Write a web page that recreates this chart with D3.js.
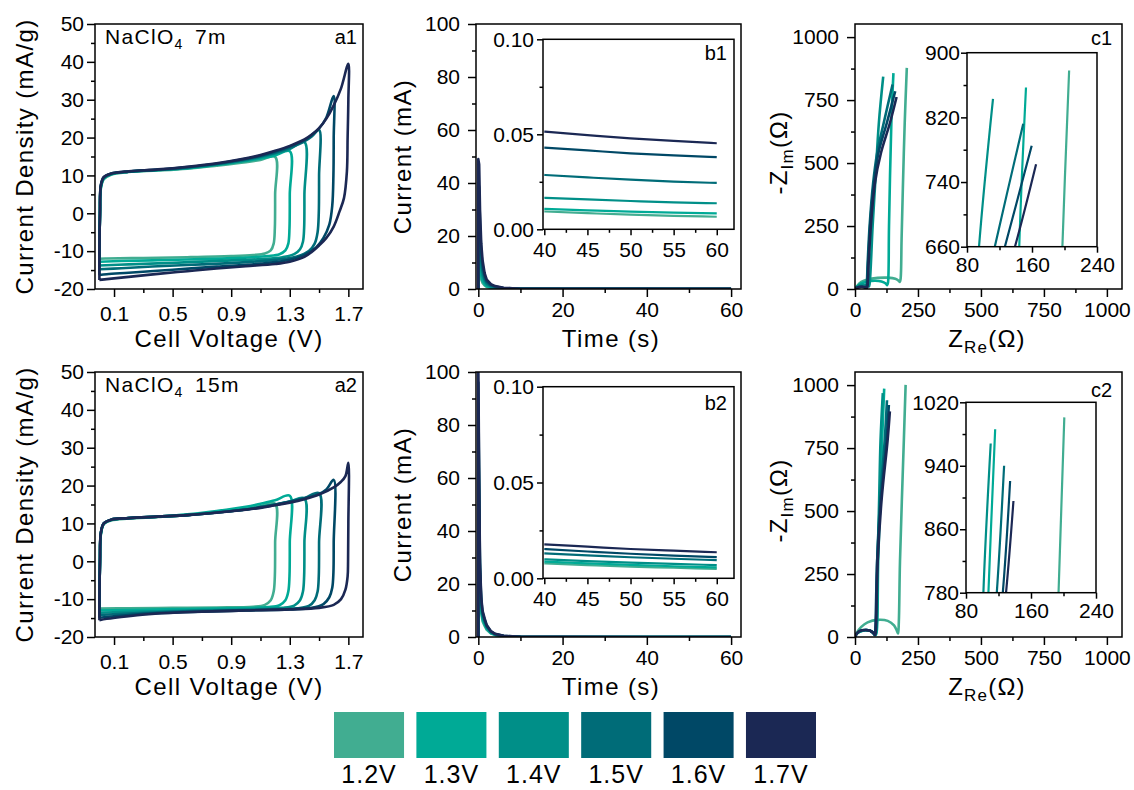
<!DOCTYPE html>
<html>
<head>
<meta charset="utf-8">
<style>
  body { margin: 0; background: #fff; }
  svg { display: block; font-family: "Liberation Sans", Arial, sans-serif; }
</style>
<script src="https://cdn.jsdelivr.net/npm/d3@7"></script>
</head>
<body>
<svg width="1134" height="790"></svg>
<script>
const volts = ["1.2V", "1.3V", "1.4V", "1.5V", "1.6V", "1.7V"];
const colors = ["#41ad91", "#00aa96", "#008f88", "#006c78", "#004866", "#1b2854"];

// CV loops [V, mA/g], NaClO4 7m
const cv7m = [
  [[0,-12],[0,-10],[0.004,0],[0.01,6.5],[0.03,9],[0.08,10.2],[0.2,10.9],[0.4,11.3],[0.6,11.8],[0.8,12.6],[1.0,13.5],[1.1,14.1],[1.2,14.9],
   [1.2,5],[1.198,-4],[1.19,-8],[1.17,-9.8],[1.13,-10.6],[1.05,-11],[0.9,-11.3],[0.6,-11.6],[0.3,-11.8],[0.05,-11.95],[0,-12]],
  [[0,-12.8],[0,-10],[0.004,0],[0.01,6.8],[0.03,9.2],[0.08,10.3],[0.2,11],[0.4,11.4],[0.6,11.9],[0.8,12.8],[1.0,13.8],[1.1,14.5],[1.2,15.3],[1.3,16.4],
   [1.3,5],[1.298,-4],[1.29,-8],[1.27,-9.8],[1.23,-10.8],[1.15,-11.3],[1.0,-11.7],[0.7,-12.1],[0.4,-12.4],[0.15,-12.6],[0,-12.8]],
  [[0,-13.8],[0,-10],[0.004,0],[0.01,7],[0.03,9.3],[0.08,10.4],[0.2,11],[0.4,11.5],[0.6,12],[0.8,12.9],[1.0,14],[1.1,14.8],[1.2,15.8],[1.3,17],[1.4,18.8],
   [1.4,5],[1.398,-4],[1.39,-7.5],[1.37,-9.5],[1.33,-10.8],[1.25,-11.6],[1.1,-12.1],[0.8,-12.6],[0.5,-13.1],[0.2,-13.5],[0,-13.8]],
  [[0,-14.8],[0,-10],[0.004,0],[0.01,7.2],[0.03,9.4],[0.08,10.4],[0.2,11],[0.4,11.5],[0.6,12.1],[0.8,13],[1.0,14.2],[1.1,15],[1.2,16],[1.3,17.3],[1.4,19],[1.45,20.3],[1.5,22],
   [1.5,10],[1.498,0],[1.49,-5],[1.47,-8],[1.43,-10],[1.35,-11.4],[1.2,-12.3],[1.0,-12.9],[0.7,-13.5],[0.4,-14],[0.15,-14.5],[0,-14.8]],
  [[0,-16.3],[0,-10],[0.004,0],[0.01,7.4],[0.03,9.5],[0.08,10.5],[0.2,11],[0.4,11.5],[0.6,12.2],[0.8,13.1],[1.0,14.4],[1.1,15.2],[1.2,16.3],[1.3,17.6],[1.4,19.3],[1.45,20.7],[1.5,22.4],[1.55,25.3],[1.6,31],
   [1.6,20],[1.598,10],[1.59,2],[1.57,-3],[1.53,-6.5],[1.48,-9],[1.4,-11],[1.3,-12.3],[1.1,-13.3],[0.8,-14.1],[0.5,-14.9],[0.2,-15.7],[0.05,-16.1],[0,-16.3]],
  [[0,-17.6],[0,-10],[0.004,0],[0.01,7.5],[0.03,9.6],[0.08,10.5],[0.2,11.1],[0.4,11.6],[0.6,12.3],[0.8,13.2],[1.0,14.5],[1.1,15.4],[1.2,16.5],[1.3,17.8],[1.4,19.5],[1.45,20.8],[1.5,22.5],[1.55,25],[1.6,28.5],[1.65,33],[1.7,39.5],
   [1.7,30],[1.695,20],[1.69,11],[1.67,4],[1.64,0.5],[1.6,-3.5],[1.55,-6.5],[1.5,-8.5],[1.45,-10.2],[1.4,-11.5],[1.3,-12.8],[1.2,-13.4],[1.0,-14],[0.8,-14.6],[0.6,-15.3],[0.4,-16],[0.2,-16.8],[0.05,-17.4],[0,-17.6]]
];

// CV loops [V, mA/g], NaClO4 15m
const cv15m = [
  [[0,-12.5],[0,-10.5],[0.004,0],[0.01,7],[0.03,9.8],[0.08,10.8],[0.2,11.3],[0.4,11.7],[0.6,12.2],[0.8,13],[1.0,14],[1.1,14.6],[1.2,15.2],
   [1.2,5],[1.198,-4],[1.19,-8],[1.17,-10.3],[1.13,-11.5],[1.05,-12],[0.8,-12.2],[0.5,-12.3],[0.2,-12.4],[0,-12.5]],
  [[0,-13],[0,-10.5],[0.004,0],[0.01,7.2],[0.03,9.9],[0.08,10.9],[0.2,11.4],[0.4,11.8],[0.6,12.4],[0.8,13.3],[1.0,14.4],[1.1,15.2],[1.2,16.1],[1.3,17.3],
   [1.3,5],[1.298,-4],[1.29,-8],[1.27,-10.3],[1.23,-11.6],[1.15,-12.1],[0.9,-12.4],[0.6,-12.6],[0.3,-12.8],[0,-13]],
  [[0,-13.6],[0,-10.5],[0.004,0],[0.01,7.3],[0.03,10],[0.08,11],[0.2,11.4],[0.4,11.8],[0.6,12.2],[0.8,12.9],[1.0,13.7],[1.1,14.3],[1.2,15],[1.3,15.8],[1.4,16.6],
   [1.4,5],[1.398,-4],[1.39,-8],[1.37,-10.3],[1.33,-11.7],[1.25,-12.3],[1.0,-12.7],[0.7,-12.9],[0.4,-13.2],[0.15,-13.4],[0,-13.6]],
  [[0,-14.2],[0,-10.5],[0.004,0],[0.01,7.4],[0.03,10],[0.08,11],[0.2,11.4],[0.4,11.8],[0.6,12.2],[0.8,12.9],[1.0,13.7],[1.1,14.3],[1.2,15],[1.3,15.8],[1.4,16.7],[1.5,18],
   [1.5,5],[1.498,-4],[1.49,-8],[1.47,-10.3],[1.43,-11.8],[1.35,-12.4],[1.1,-12.8],[0.8,-13],[0.5,-13.3],[0.2,-13.8],[0,-14.2]],
  [[0,-14.9],[0,-10.5],[0.004,0],[0.01,7.5],[0.03,10],[0.08,11],[0.2,11.4],[0.4,11.8],[0.6,12.2],[0.8,12.9],[1.0,13.7],[1.1,14.3],[1.2,14.9],[1.3,15.7],[1.4,16.6],[1.5,17.8],[1.55,19],[1.6,21.5],
   [1.6,5],[1.598,-3],[1.59,-7],[1.57,-9.5],[1.53,-11.3],[1.45,-12.3],[1.3,-12.7],[1.0,-13],[0.7,-13.3],[0.4,-13.7],[0.2,-14.2],[0,-14.9]],
  [[0,-15.6],[0,-10.5],[0.004,0],[0.01,7.6],[0.03,10],[0.08,11],[0.2,11.4],[0.4,11.8],[0.6,12.2],[0.8,12.8],[1.0,13.6],[1.1,14.1],[1.2,14.8],[1.3,15.5],[1.4,16.4],[1.5,17.6],[1.6,19.5],[1.65,21],[1.68,22.5],[1.7,26],
   [1.7,10],[1.698,0],[1.695,-4],[1.68,-7.5],[1.65,-10],[1.6,-11.5],[1.5,-12.3],[1.3,-12.7],[1.0,-13],[0.7,-13.3],[0.4,-13.8],[0.2,-14.5],[0.05,-15.2],[0,-15.6]]
];

// chronoamperometry: time (s) and current (mA)
const tDecay = [0, 0, 0.2, 0.4, 0.7, 1, 1.5, 2, 3, 4, 6, 10, 20];
const iDecay7m = [
  [0, 10, 9.6, 6.2, 3.6, 2.3, 1.3, 0.75, 0.38, 0.22, 0.1, 0.03, 0.015],
  [0, 14, 13.4, 8.6, 5, 3.2, 1.8, 1.0, 0.5, 0.3, 0.13, 0.035, 0.016],
  [0, 22, 21, 13.5, 7.8, 5, 2.8, 1.6, 0.8, 0.48, 0.2, 0.05, 0.025],
  [0, 30, 28.7, 18.4, 10.5, 6.8, 3.7, 2.2, 1.1, 0.65, 0.3, 0.08, 0.04],
  [0, 40, 38.4, 24.5, 14, 9, 5, 2.9, 1.5, 0.9, 0.4, 0.1, 0.05],
  [0, 49, 47, 30, 17, 11, 6, 3.5, 1.8, 1.1, 0.5, 0.12, 0.06]
];
const iDecay15m = [
  [0, 62, 36, 17, 9, 6, 4.2, 2.7, 1.3, 0.7, 0.26, 0.05, 0.012],
  [0, 72, 42, 19.5, 10.3, 6.9, 4.8, 3.1, 1.5, 0.8, 0.3, 0.055, 0.014],
  [0, 80, 47, 22, 11.6, 7.7, 5.4, 3.5, 1.7, 0.9, 0.34, 0.06, 0.016],
  [0, 88, 52, 24, 12.8, 8.5, 6, 3.9, 1.9, 1.0, 0.38, 0.07, 0.02],
  [0, 96, 56, 26, 14, 9.3, 6.5, 4.2, 2.05, 1.1, 0.42, 0.075, 0.024],
  [0, 104, 60, 28, 15, 10, 7, 4.5, 2.2, 1.2, 0.45, 0.08, 0.03]
];
const tTail = [40, 45, 50, 55, 60];
const iTail7m = [
  [0.0094, 0.0085, 0.0077, 0.0071, 0.0066],
  [0.0108, 0.0100, 0.0093, 0.0088, 0.0084],
  [0.0166, 0.0157, 0.0149, 0.0142, 0.0137],
  [0.0286, 0.0273, 0.0261, 0.0251, 0.0244],
  [0.0430, 0.0415, 0.0400, 0.0389, 0.0380],
  [0.0514, 0.0496, 0.0479, 0.0465, 0.0453]
];
const iTail15m = [
  [0.0078, 0.0069, 0.0061, 0.0055, 0.0049],
  [0.0087, 0.0078, 0.0070, 0.0063, 0.0057],
  [0.0099, 0.0090, 0.0082, 0.0075, 0.0069],
  [0.0130, 0.0120, 0.0110, 0.0102, 0.0095],
  [0.0153, 0.0140, 0.0128, 0.0118, 0.0110],
  [0.0177, 0.0165, 0.0153, 0.0144, 0.0136]
];

// Nyquist [Z_Re, -Z_Im] in ohm
const eis7m = [
  [[0,0],[8,12],[25,28],[50,38],[90,44],[130,45],[160,41],[172,34],[178,28],[181,40],[185,200],[190,400],[197.4,660],[205.7,878]],
  [[0,0],[8,10],[25,22],[50,30],[80,33],[105,30],[122,22],[128,15],[131,25],[135,250],[144.3,660],[152.6,857]],
  [[0,0],[8,8],[20,15],[35,18],[48,15],[55,10],[58,22],[70,250],[82,450],[94.8,660],[112,843]],
  [[0,0],[10,6],[22,9],[35,8],[42,4],[45,8],[50,100],[58,250],[72,420],[88,540],[114.2,660],[149.2,812]],
  [[0,0],[10,6],[24,9],[37,8],[44,4],[47,8],[52,100],[60,250],[75,420],[93,540],[126.6,660],[159.6,785]],
  [[0,0],[10,6],[25,9],[39,8],[46,4],[49,8],[54,100],[63,250],[79,420],[103,540],[139,660],[165,762]]
];
const eis15m = [
  [[0,0],[8,18],[25,40],[50,58],[90,68],[130,64],[155,46],[166,25],[171,14],[174,60],[178.6,300],[193.9,780],[201,1001]],
  [[0,0],[6,12],[20,22],[40,27],[60,25],[75,16],[82,8],[86,20],[92,300],[100,550],[107.6,780],[115.9,986]],
  [[0,0],[6,12],[20,22],[40,27],[60,25],[74,16],[80,8],[84,20],[90,300],[96,550],[101.4,780],[110.4,968]],
  [[0,0],[6,12],[20,24],[40,28],[60,25],[72,16],[78,8],[82,20],[88,300],[100,550],[117.9,780],[126.9,940]],
  [[0,0],[6,12],[20,24],[40,28],[60,25],[72,16],[78,8],[80,20],[88,300],[103,550],[125.3,780],[134.3,920.8]],
  [[0,0],[6,12],[20,24],[40,28],[60,25],[74,16],[80,8],[82,20],[90,300],[106,550],[129.3,780],[138.4,895.6]]
];

const svg = d3.select("svg");
let clipId = 0;

function makePanel(box, xDom, yDom, opt) {
  const [x0, x1, y0, y1] = box;
  const x = d3.scaleLinear().domain(xDom).range([x0, x1]);
  const y = d3.scaleLinear().domain(yDom).range([y1, y0]);
  const g = svg.append("g");
  if (opt.inset) {
    g.append("rect").attr("x", x0).attr("y", y0).attr("width", x1 - x0).attr("height", y1 - y0).attr("fill", "#fff");
  }
  const id = "clip" + (clipId++);
  g.append("clipPath").attr("id", id).append("rect")
    .attr("x", x0).attr("y", y0).attr("width", x1 - x0).attr("height", y1 - y0);
  const plot = g.append("g").attr("clip-path", `url(#${id})`);
  return {x, y, g, plot, box, opt};
}

function styleAxis(sel) {
  sel.attr("font-family", null).attr("font-size", null);
  sel.select(".domain").remove();
  sel.selectAll("line").attr("stroke", "#000").attr("stroke-width", 1.5);
  sel.selectAll("text").attr("fill", "#000").attr("font-size", 21);
}

function finishPanel(p) {
  const {x, y, g, box, opt} = p;
  const [x0, x1, y0, y1] = box;
  const ax = g.append("g");
  ax.append("g").attr("transform", `translate(0,${y1})`)
    .call(d3.axisBottom(x).tickValues(opt.xMinor).tickSize(opt.minor).tickFormat(""))
    .call(styleAxis);
  ax.append("g").attr("transform", `translate(0,${y1})`)
    .call(d3.axisBottom(x).tickValues(opt.xMajor).tickSize(opt.major).tickPadding(opt.xPad).tickFormat(opt.xFmt))
    .call(styleAxis);
  ax.append("g").attr("transform", `translate(${x0},0)`)
    .call(d3.axisLeft(y).tickValues(opt.yMinor).tickSize(opt.minor).tickFormat(""))
    .call(styleAxis);
  ax.append("g").attr("transform", `translate(${x0},0)`)
    .call(d3.axisLeft(y).tickValues(opt.yMajor).tickSize(opt.major).tickPadding(opt.yPad).tickFormat(opt.yFmt))
    .call(styleAxis);
  g.append("rect").attr("x", x0).attr("y", y0).attr("width", x1 - x0).attr("height", y1 - y0)
    .attr("fill", "none").attr("stroke", "#000").attr("stroke-width", 1.5);
}

const str = d => String(d);
const smooth = d3.curveCatmullRom.alpha(0.5);

function drawLines(p, series, width, curve) {
  const line = d3.line().x(d => p.x(d[0])).y(d => p.y(d[1])).curve(curve || d3.curveLinear);
  p.plot.selectAll(null).data(series).join("path")
    .attr("d", line)
    .attr("fill", "none")
    .attr("stroke", (d, i) => colors[i])
    .attr("stroke-width", width)
    .attr("stroke-linejoin", "round");
}

function text(x, y, s, o) {
  const t = svg.append("text").attr("x", x).attr("y", y).attr("font-size", o.size).attr("fill", "#000");
  if (o.anchor) t.attr("text-anchor", o.anchor);
  if (o.ls) t.attr("letter-spacing", o.ls);
  if (o.rotate) t.attr("transform", `rotate(-90,${x},${y})`);
  if (typeof s === "string") t.text(s);
  else s.forEach(part => {
    const ts = t.append("tspan").text(part.t);
    if (part.size) ts.attr("font-size", part.size);
    if (part.dy) ts.attr("dy", part.dy);
  });
  return t;
}

const aOpt = {xMajor: [0.1, 0.5, 0.9, 1.3, 1.7], xMinor: [0.3, 0.7, 1.1, 1.5], xFmt: d3.format(".1f"),
  yMajor: [-20, -10, 0, 10, 20, 30, 40, 50], yMinor: [-15, -5, 5, 15, 25, 35, 45], yFmt: str,
  major: 8, minor: 4, xPad: 9, yPad: 3};
const bOpt = {xMajor: [0, 20, 40, 60], xMinor: [10, 30, 50], xFmt: str,
  yMajor: [0, 20, 40, 60, 80, 100], yMinor: [10, 30, 50, 70, 90], yFmt: str,
  major: 8, minor: 4, xPad: 5, yPad: 8};
const bInOpt = {inset: true, xMajor: [40, 45, 50, 55, 60], xMinor: [42.5, 47.5, 52.5, 57.5], xFmt: str,
  yMajor: [0, 0.05, 0.1], yMinor: [0.025, 0.075], yFmt: d3.format(".2f"),
  major: 6, minor: 3.5, xPad: 7, yPad: 3};
const cOpt = {xMajor: [0, 250, 500, 750, 1000], xMinor: [125, 375, 625, 875], xFmt: str,
  yMajor: [0, 250, 500, 750, 1000], yMinor: [125, 375, 625, 875], yFmt: str,
  major: 8, minor: 4, xPad: 5, yPad: 8};

const rows = [
  {top: 24, bot: 289, cv: cv7m, dec: iDecay7m, tail: iTail7m, eis: eis7m, conc: "7m", tag: "1",
   bIn: [543, 734, 39.3, 229.3], cIn: [967, 1097, 52.7, 246.7], cInY: [660, 900],
   cInYMajor: [660, 740, 820, 900], cInYMinor: [700, 780, 860], bTagY: 60, cTagY: 45},
  {top: 372, bot: 637, cv: cv15m, dec: iDecay15m, tail: iTail15m, eis: eis15m, conc: "15m", tag: "2",
   bIn: [543, 734, 386.7, 578.3], cIn: [966, 1096, 402.3, 592.7], cInY: [780, 1020],
   cInYMajor: [780, 860, 940, 1020], cInYMinor: [820, 900, 980], bTagY: 410, cTagY: 397}
];

rows.forEach(r => {
  // a: cyclic voltammetry
  const a = makePanel([95, 363, r.top, r.bot], [-0.03, 1.8], [-20, 50], aOpt);
  drawLines(a, r.cv, 2.6, smooth);
  finishPanel(a);
  text(105, r.top + 20, [{t: "NaClO"}, {t: "4", size: 14, dy: 5}], {size: 21, ls: 1.3});
  text(195, r.top + 20, r.conc, {size: 21, ls: 1.3});
  text(357, r.top + 20, "a" + r.tag, {size: 20, anchor: "end"});

  // b: current transient
  const b = makePanel([476, 741, r.top, r.bot], [-0.55, 62.35], [0, 100], bOpt);
  const bSeries = r.dec.map((s, i) => tDecay.map((t, k) => [t, s[k]]).concat(tTail.map((t, k) => [t, r.tail[i][k]])));
  drawLines(b, bSeries, 2.6);
  finishPanel(b);
  const bi = makePanel(r.bIn, [39.85, 62], [0, 0.1], bInOpt);
  drawLines(bi, r.tail.map(s => tTail.map((t, k) => [t, s[k]])), 2.2, d3.curveMonotoneX);
  finishPanel(bi);
  text(727, r.bTagY, "b" + r.tag, {size: 20, anchor: "end"});

  // c: Nyquist
  const c = makePanel([855, 1122, r.top, r.bot], [0, 1060], [0, 1052], cOpt);
  drawLines(c, r.eis, 2.6, smooth);
  finishPanel(c);
  const ci = makePanel(r.cIn, [80, 240], r.cInY, {inset: true, xMajor: [80, 160, 240], xMinor: [120, 200], xFmt: str,
    yMajor: r.cInYMajor, yMinor: r.cInYMinor, yFmt: str, major: 6, minor: 3.5, xPad: 4, yPad: 1});
  drawLines(ci, r.eis, 2.2, smooth);
  finishPanel(ci);
  text(1112, r.cTagY, "c" + r.tag, {size: 20, anchor: "end"});

  // axis titles
  const xb = r.bot + 58, yc = (r.top + r.bot) / 2;
  text(229, xb, "Cell Voltage (V)", {size: 24, anchor: "middle", ls: 1.4});
  text(33, yc, "Current Density (mA/g)", {size: 24, anchor: "middle", ls: 1.4, rotate: true});
  text(611, xb, "Time (s)", {size: 24, anchor: "middle", ls: 1.4});
  text(411, yc, "Current (mA)", {size: 24, anchor: "middle", ls: 1.4, rotate: true});
  text(987, xb, [{t: "Z"}, {t: "Re", size: 17, dy: 6}, {t: "(Ω)", dy: -6}], {size: 24, anchor: "middle", ls: 1.2});
  text(787, yc - 4, [{t: "-Z"}, {t: "Im", size: 17, dy: 6}, {t: "(Ω)", dy: -6}], {size: 24, anchor: "middle", ls: 1.2, rotate: true});
});

// legend
const lx = d3.scaleBand().domain(volts).range([334, 816]).paddingInner(0.15);
const leg = svg.append("g");
leg.selectAll("rect").data(volts).join("rect")
  .attr("x", d => lx(d)).attr("y", 712).attr("width", lx.bandwidth()).attr("height", 46)
  .attr("fill", (d, i) => colors[i]);
leg.selectAll("text").data(volts).join("text")
  .attr("x", d => lx(d) + lx.bandwidth() / 2).attr("y", 783)
  .attr("text-anchor", "middle").attr("font-size", 25).attr("letter-spacing", 1)
  .text(d => d);
</script>
</body>
</html>
